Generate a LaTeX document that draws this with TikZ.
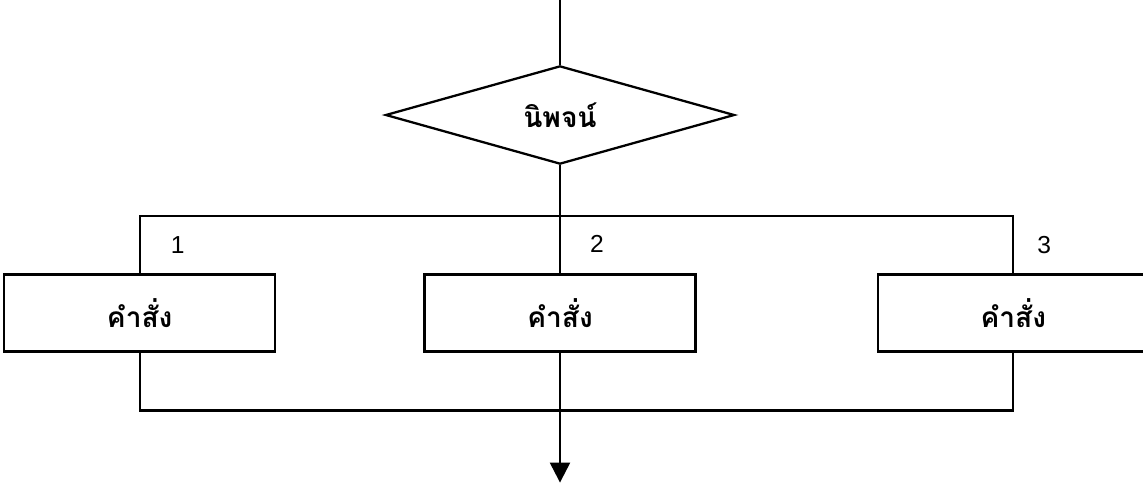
\documentclass[tikz,border=0pt]{standalone}
\usepackage{fontspec}
\setmainfont{Liberation Sans}
\newfontfamily\thaifont[Script=Thai]{Loma}
\usetikzlibrary{arrows.meta,positioning,shapes.geometric}

\begin{document}
\begin{tikzpicture}[
line width=1.3pt,
decision/.style={draw, diamond, inner sep=0pt, minimum width=6.98cm, minimum height=1.9cm, font=\thaifont\bfseries\fontsize{16}{19}\selectfont},
cmdbox/.style={draw, rectangle, minimum width=5.42cm, minimum height=1.54cm, font=\thaifont\bfseries\fontsize{16}{19}\selectfont},
numlabel/.style={font=\fontsize{14}{16}\selectfont},
arrow/.style={-{Triangle[length=4mm, width=4mm]}}
]
\useasboundingbox (0,0) rectangle (22.86,-9.66);

\coordinate (entry) at (11.2,0);
\node[decision] (expr) at (11.2,-2.3) {นิพจน์};
\node[cmdbox, below=2.16cm of expr] (cmd2) {คำสั่ง};
\node[cmdbox, left=2.94cm of cmd2] (cmd1) {คำสั่ง};
\node[cmdbox, right=3.6cm of cmd2] (cmd3) {คำสั่ง};

\coordinate[below=1.02cm of expr.south] (split);
\coordinate[below=1.16cm of cmd2.south] (merge);
\coordinate[below=2.6cm of cmd2.south] (exit);

% case values
\node[numlabel] (n1) at ([shift={(0.76,0.56)}]cmd1.north) {1};
\node[numlabel] (n2) at ([shift={(0.74,0.58)}]cmd2.north) {2};
\node[numlabel] (n3) at ([shift={(0.62,0.56)}]cmd3.north) {3};

\draw (entry) -- (expr);
\draw (expr) -- (split) -- (cmd2);
\draw (cmd1.north) |- (split) -| (cmd3.north);
\draw (cmd1.south) |- (merge) -| (cmd3.south);
\draw[arrow] (cmd2) -- (exit);
\end{tikzpicture}
\end{document}
